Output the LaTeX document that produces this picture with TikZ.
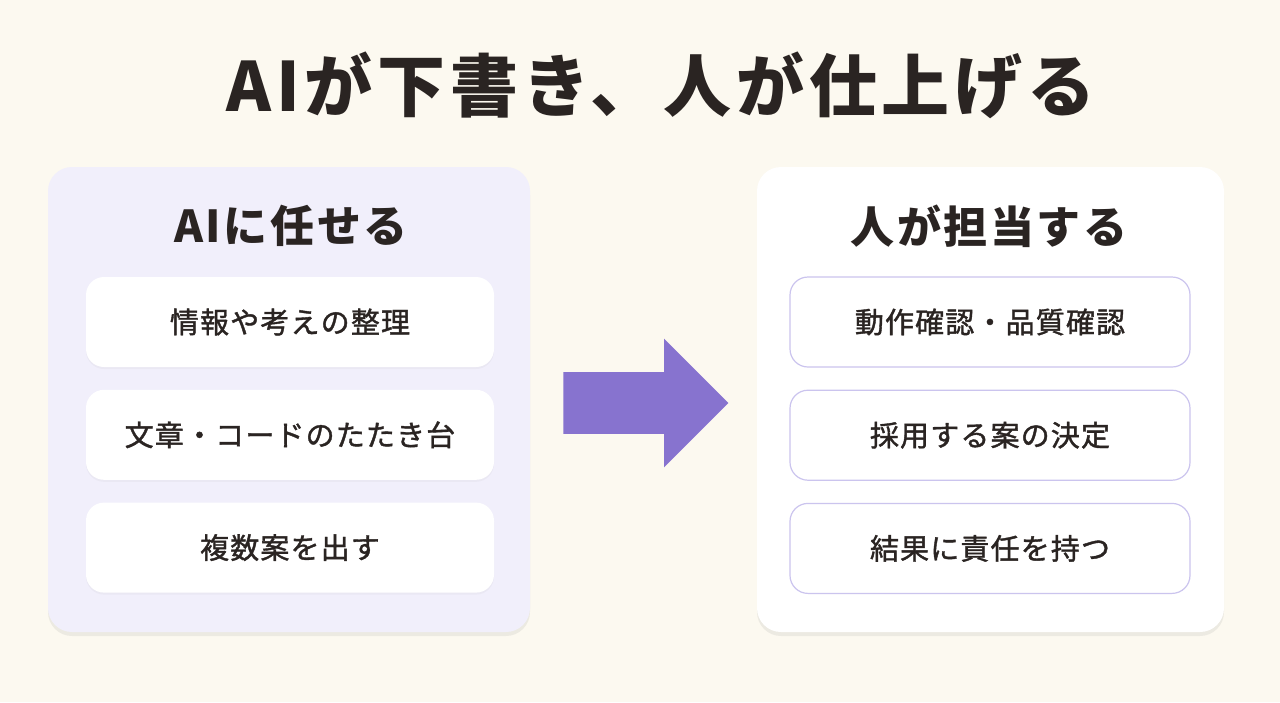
\documentclass[tikz,border=0pt]{standalone}
\usepackage{fontspec}
\setmainfont{Noto Sans CJK JP}
\newfontfamily\titlefont{Noto Sans CJK JP}[LetterSpace=7]
\newfontfamily\headfont{Noto Sans CJK JP}[LetterSpace=6]
\newfontfamily\itemfont{Noto Sans CJK JP}[LetterSpace=4, FakeBold=1.3]
\usetikzlibrary{positioning,shapes.arrows,shadows}
\definecolor{bg-color}{HTML}{FCF9F0}
\definecolor{ai-color}{HTML}{F1EFFB}
\definecolor{edge-color}{HTML}{CBC4EE}
\definecolor{arrow-color}{HTML}{8773CF}
\definecolor{ink-color}{HTML}{2A2422}
\tikzset{
  panel/.style={rounded corners=12pt, minimum height=232.5pt,
    drop shadow={opacity=0.12, shadow xshift=0pt, shadow yshift=-2pt}},
  ai-panel/.style={panel, fill=ai-color, minimum width=241pt},
  human-panel/.style={panel, fill=white, minimum width=233.5pt},
  heading/.style={font=\fontsize{22}{26}\headfont\bfseries, text=ink-color},
  item/.style={rounded corners=9pt, minimum height=45pt, text=ink-color,
    font=\fontsize{14.5}{17}\itemfont},
  ai-item/.style={item, fill=white, minimum width=204pt,
    drop shadow={opacity=0.06, shadow xshift=0pt, shadow yshift=-1pt}},
  human-item/.style={item, fill=white, draw=edge-color, line width=0.6pt, minimum width=200pt}
}
\begin{document}
\begin{tikzpicture}[x=0.5pt, y=-0.5pt]
  \fill[bg-color] (0,0) rectangle (1280,702);
  \useasboundingbox (0,0) rectangle (1280,702);
  \node[font=\fontsize{34}{40}\titlefont\bfseries, text=ink-color] (title) at (661,85)
    {AIが下書き、人が仕上げる};
  % left panel
  \node[ai-panel] (ai) at (289,399.5) {};
  \node[heading] (ai-head) at (291,226) {AIに任せる};
  \node[ai-item] (ai-1) at (290,322) {情報や考えの整理};
  \node[ai-item, below=11pt of ai-1] (ai-2) {文章・コードのたたき台};
  \node[ai-item, below=11pt of ai-2] (ai-3) {複数案を出す};
  % right panel
  \node[human-panel] (human) at (990.5,399.5) {};
  \node[heading] (human-head) at (989,226) {人が担当する};
  \node[human-item] (human-1) at (990,322) {動作確認・品質確認};
  \node[human-item, below=11pt of human-1] (human-2) {採用する案の決定};
  \node[human-item, below=11pt of human-2] (human-3) {結果に責任を持つ};
  % arrow
  \node[single arrow, fill=arrow-color, inner xsep=0pt, inner ysep=15.25pt,
    single arrow head extend=16.75pt, single arrow tip angle=90,
    minimum height=82.5pt] (arrow) at (630.5,403) {};
\end{tikzpicture}
\end{document}
